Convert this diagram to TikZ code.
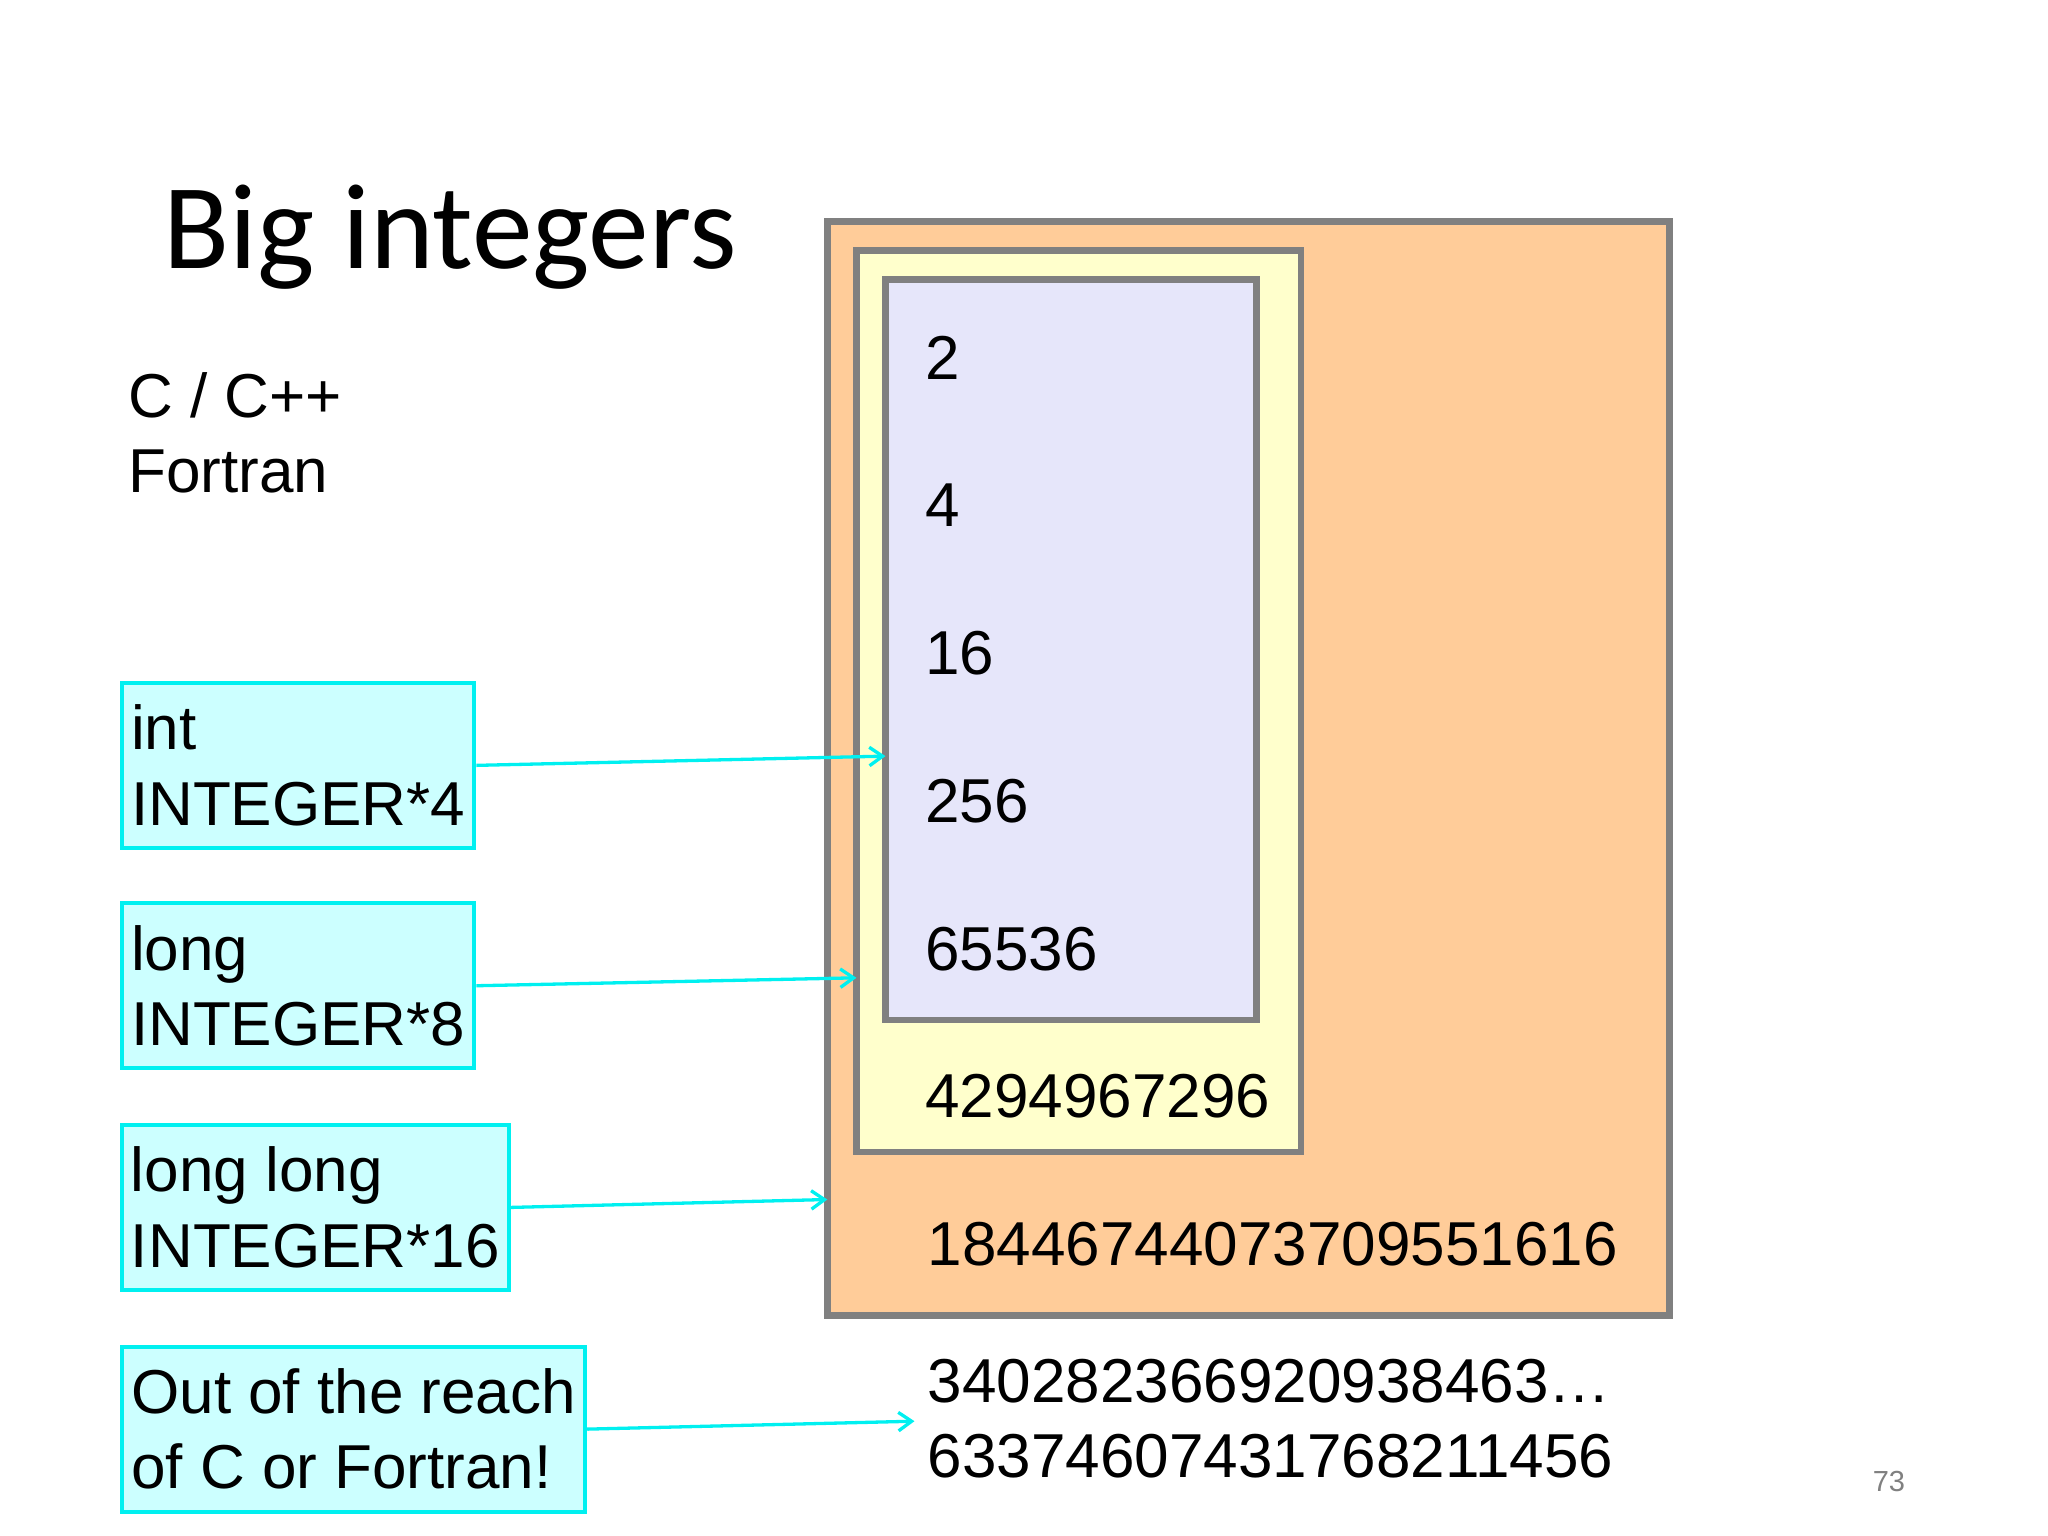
\documentclass[tikz,border=0pt]{standalone}
\usepackage{fontspec}
\setmainfont{Liberation Sans}
\newfontfamily\titlefont{Carlito}
\usetikzlibrary{arrows.meta}
\definecolor{orng}{HTML}{FFCC99}
\definecolor{ylw}{HTML}{FFFFCC}
\definecolor{lav}{HTML}{E6E6FA}
\definecolor{cyb}{HTML}{CCFFFF}
\definecolor{cyl}{HTML}{00F0F0}
\definecolor{grayb}{HTML}{808080}
\tikzset{
 layer/.style={draw=grayb,line width=5pt},
 txt/.style={anchor=west,inner sep=0pt,font=\fontsize{47}{57}\selectfont},
 tbox/.style={draw=cyl,fill=cyb,line width=3pt,anchor=north west,inner sep=6pt,align=left,font=\fontsize{47}{57}\selectfont,minimum height=125pt},
 arr/.style={draw=cyl,line width=2.5pt,-{Straight Barb[length=10pt,width=14pt]}}
}
\begin{document}
\begin{tikzpicture}[x=1pt,y=-1pt]
\useasboundingbox (0,0) rectangle (1552,1164);
\draw[layer,fill=orng] (627,168) rectangle (1265,997);
\draw[layer,fill=ylw] (649,190) rectangle (986,873);
\draw[layer,fill=lav] (671,212) rectangle (952,773);
\coordinate (outer) at (627,909);
\coordinate (yel) at (649,741);
\coordinate (lavc) at (671,573);
\node[txt] (n1) at (701,271) {2};
\node[txt] (n2) at (701,383) {4};
\node[txt] (n3) at (701,495) {16};
\node[txt] (n4) at (701,607) {256};
\node[txt] (n5) at (701,719) {65536};
\node[txt] (n6) at (701,831) {4294967296};
\node[txt] (n7) at (703,943) {18446744073709551616};
\node[txt,align=left,anchor=north west] (n8) at (703,1030) {340282366920938463…\\633746074317682114​56};
\node[anchor=west,inner sep=0pt,font=\titlefont\fontsize{92}{100}\selectfont] (title) at (124,180) {Big integers};
\node[txt,align=left,anchor=north west] (lang) at (97,282) {C / C++\\Fortran};
\node[tbox,minimum width=267pt] (b1) at (91,516) {int\\INTEGER*4};
\node[tbox,minimum width=267pt] (b2) at (91,683) {long\\INTEGER*8};
\node[tbox,minimum width=293pt] (b3) at (91,851) {long long\\INTEGER*16};
\node[tbox,minimum width=351pt] (b4) at (91,1019) {Out of the reach\\of C or Fortran!};
\coordinate (tgt4) at (693,1077);
\draw[arr] (b1.east) -- (lavc);
\draw[arr] (b2.east) -- (yel);
\draw[arr] (b3.east) -- (outer);
\draw[arr] (b4.east) -- (tgt4);
\node[anchor=west,inner sep=0pt,text=grayb,font=\fontsize{22}{26}\selectfont] (pg) at (1419,1123) {73};
\end{tikzpicture}
\end{document}
